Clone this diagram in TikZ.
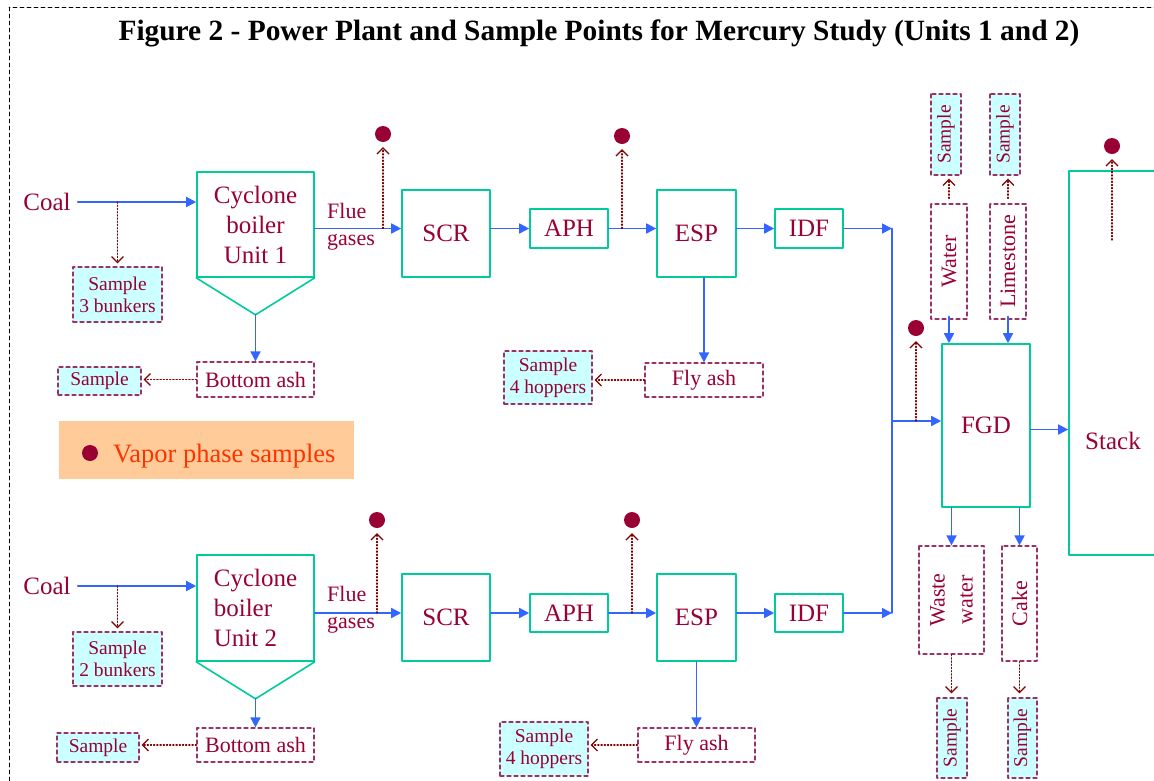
\documentclass[tikz,border=0pt]{standalone}
\usepackage{fontspec}
\setmainfont{Liberation Serif}
\usepackage{tikz}
\usepackage{xcolor}
\usetikzlibrary{arrows.meta,positioning}
\definecolor{plantred}{HTML}{990033}
\definecolor{plantgreen}{HTML}{00CC99}
\definecolor{plantblue}{HTML}{3366FF}
\definecolor{plantdash}{HTML}{993366}
\definecolor{planttap}{HTML}{800000}
\definecolor{plantcyan}{HTML}{CCFFFF}
\definecolor{plantorange}{HTML}{FFCC99}
\definecolor{plantvapor}{HTML}{FF3300}
\tikzset{
  every picture/.append style={line cap=round,line join=round},
  plant size/.style 2 args={minimum width=#1pt,minimum height=#2pt},
  plant unit/.style={draw=plantgreen,line width=1.6pt,text=plantred,inner sep=0pt,font=\fontsize{25}{30}\selectfont},
  plant hopper/.style={plantgreen,line width=1.6pt},
  plant flow/.style={plantblue,line width=1.7pt,-{Triangle[length=10pt,width=10pt]}},
  plant pipe/.style={plantblue,line width=1.7pt},
  plant tap/.style={planttap,line width=1.2pt,dotted,-{Straight Barb[length=6pt,width=12pt]}},
  plant stream/.style={draw=plantdash,line width=1.2pt,dash pattern=on 4pt off 3pt,text=plantred,inner sep=0pt,align=center,font=\fontsize{22}{28}\selectfont},
  plant sample/.style={plant stream,fill=plantcyan,font=\fontsize{19.5}{22}\selectfont},
  plant dot/.style={circle,fill=plantred,inner sep=0pt,minimum size=16pt},
  plant label/.style={text=plantred,inner sep=0pt,font=\fontsize{25}{30}\selectfont},
  plant note/.style={text=plantred,inner sep=0pt,align=left,font=\fontsize{22}{27}\selectfont}
}
\begin{document}
\begin{tikzpicture}[x=1pt,y=-1pt]
  \useasboundingbox (0,0) rectangle (1154,780);
  \draw[line width=0.8pt,dash pattern=on 4pt off 3pt] (9,7) rectangle (1180,800);
  \node[font=\bfseries\fontsize{29.4}{34}\selectfont] (title) at (599,33) {Figure 2 - Power Plant and Sample Points for Mercury Study (Units 1 and 2)};

  % unit 1
  \node[plant label] (coal1) at (47,202) {Coal};
  \node[plant unit,plant size={117}{105},align=center] (boil1) at (255.5,224.5) {Cyclone\\boiler\\Unit 1};
  \coordinate (apex1) at ([yshift=-37pt]boil1.south);
  \draw[plant hopper] (boil1.south west) -- (apex1) -- (boil1.south east);
  \node[plant sample,plant size={89}{55}] (sbunk1) at (117.5,294.5) {Sample\\3 bunkers};
  \node[plant stream,plant size={117}{35}] (bash1) at (255.5,379.5) {Bottom ash};
  \node[plant sample,plant size={83}{28}] (sash1) at (99.5,381) {Sample};
  \node[plant note] (flue1) at (351,227) {Flue\\gases};
  \node[plant unit,plant size={88}{87}] (scr1) at (446,233.5) {SCR};
  \node[plant unit,plant size={78}{39}] (aph1) at (569,228.5) {APH};
  \node[plant unit,plant size={79}{87}] (esp1) at (696.5,233.5) {ESP};
  \node[plant unit,plant size={68}{39}] (idf1) at (809,228.5) {IDF};
  \node[plant stream,plant size={118}{34}] (fly1) at (704,380) {Fly ash};
  \node[plant sample,plant size={88}{53}] (shop1) at (548,377.5) {Sample\\4 hoppers};
  \node[plant dot] (vap1) at (383,134) {};
  \node[plant dot] (vap2) at (622,136) {};

  \draw[plant flow,shorten <=7pt] (coal1.east) -- (coal1.east -| boil1.west);
  \draw[plant tap,shorten >=3pt] (sbunk1.north |- coal1) -- (sbunk1.north);
  \draw[plant flow] (apex1) -- (bash1.north);
  \draw[plant tap,shorten >=2pt] (bash1.west) -- (bash1.west -| sash1.east);
  \draw[plant flow] (boil1.east |- aph1) -- (scr1.west |- aph1);
  \draw[plant flow] (scr1.east |- aph1) -- (aph1.west);
  \draw[plant flow] (aph1.east) -- (esp1.west |- aph1);
  \draw[plant flow] (esp1.east |- idf1) -- (idf1.west);
  \draw[plant tap,shorten >=5pt] (vap1 |- aph1) -- (vap1.south);
  \draw[plant tap,shorten >=5pt] (vap2 |- aph1) -- (vap2.south);
  \draw[plant flow] (fly1.north |- esp1.south) -- (fly1.north);
  \draw[plant tap,shorten >=2pt] (fly1.west) -- (fly1.west -| shop1.east);

  % legend
  \node[fill=plantorange,plant size={295}{58}] (legend) at (206.5,450) {};
  \node[plant dot] (legdot) at (90,453) {};
  \node[anchor=west,text=plantvapor,inner sep=0pt,font=\fontsize{26.5}{30}\selectfont] (legtext) at (113,456) {Vapor phase samples};

  % unit 2
  \node[plant label] (coal2) at (47,586) {Coal};
  \node[plant unit,plant size={117}{106},align=left] (boil2) at (255.5,608) {Cyclone\\boiler\\Unit 2};
  \coordinate (apex2) at ([yshift=-37pt]boil2.south);
  \draw[plant hopper] (boil2.south west) -- (apex2) -- (boil2.south east);
  \node[plant sample,plant size={89}{54}] (sbunk2) at (117.5,659) {Sample\\2 bunkers};
  \node[plant stream,plant size={117}{34}] (bash2) at (255.5,745) {Bottom ash};
  \node[plant sample,plant size={82}{29}] (sash2) at (98,747.5) {Sample};
  \node[plant note] (flue2) at (351,610) {Flue\\gases};
  \node[plant unit,plant size={88}{87}] (scr2) at (446,617.5) {SCR};
  \node[plant unit,plant size={78}{38}] (aph2) at (569,613) {APH};
  \node[plant unit,plant size={79}{87}] (esp2) at (696.5,617.5) {ESP};
  \node[plant unit,plant size={68}{38}] (idf2) at (809,613) {IDF};
  \node[plant stream,plant size={117}{34}] (fly2) at (696.5,745) {Fly ash};
  \node[plant sample,plant size={88}{54}] (shop2) at (544,749) {Sample\\4 hoppers};
  \node[plant dot] (vap3) at (377,520) {};
  \node[plant dot] (vap4) at (632,520) {};

  \draw[plant flow,shorten <=7pt] (coal2.east) -- (coal2.east -| boil2.west);
  \draw[plant tap,shorten >=3pt] (sbunk2.north |- coal2) -- (sbunk2.north);
  \draw[plant flow] (apex2) -- (bash2.north);
  \draw[plant tap,shorten >=2pt] (bash2.west) -- (bash2.west -| sash2.east);
  \draw[plant flow] (boil2.east |- aph2) -- (scr2.west |- aph2);
  \draw[plant flow] (scr2.east |- aph2) -- (aph2.west);
  \draw[plant flow] (aph2.east) -- (esp2.west |- aph2);
  \draw[plant flow] (esp2.east |- idf2) -- (idf2.west);
  \draw[plant tap,shorten >=5pt] (vap3 |- aph2) -- (vap3.south);
  \draw[plant tap,shorten >=5pt] (vap4 |- aph2) -- (vap4.south);
  \draw[plant flow] (esp2.south -| fly2.north) -- (fly2.north);
  \draw[plant tap,shorten >=2pt] (fly2.west) -- (fly2.west -| shop2.east);

  % scrubber and stack
  \coordinate (bus1) at (892,228.5);
  \coordinate (bus2) at (892,613);
  \coordinate (busfgd) at (892,421);
  \node[plant unit,plant size={88}{163}] (fgd) at (986,425.5) {FGD};
  \node[plant unit,plant size={88}{384}] (stack) at (1113,363) {};
  \node[plant label] (stacklbl) at (1113,441) {Stack};
  \node[plant stream,rotate=90,plant size={115}{36}] (water) at (949,261.5) {Water};
  \node[plant stream,rotate=90,plant size={115}{36}] (lime) at (1008,261.5) {Limestone};
  \node[plant sample,rotate=90,plant size={81}{30}] (wsamp) at (946,134.5) {Sample};
  \node[plant sample,rotate=90,plant size={81}{30}] (lsamp) at (1005,134.5) {Sample};
  \node[plant stream,rotate=90,plant size={108}{65}] (waste) at (951.5,600) {Waste\\water};
  \node[plant stream,rotate=90,plant size={115}{35}] (cake) at (1019.5,603.5) {Cake};
  \node[plant sample,rotate=90,plant size={80}{30}] (wwsamp) at (952,738) {Sample};
  \node[plant sample,rotate=90,plant size={80}{29}] (cksamp) at (1022.5,738) {Sample};
  \node[plant dot] (vap5) at (916,328) {};
  \node[plant dot] (vap6) at (1112,146) {};
  \coordinate (stacktap) at (1112,240);

  \draw[plant flow] (idf1.east) -- (bus1);
  \draw[plant flow] (idf2.east) -- (bus2);
  \draw[plant pipe] (bus1) -- (bus2);
  \draw[plant flow] (busfgd) -- (busfgd -| fgd.west);
  \draw[plant tap,shorten >=5pt] (vap5 |- busfgd) -- (vap5.south);
  \draw[plant flow] ([yshift=-4pt]fgd.east) -- ([yshift=-4pt]fgd.east -| stack.west);
  \draw[plant tap,shorten >=5pt] (stacktap) -- (vap6.south);
  \draw[plant flow,shorten <=-3pt] (water.west) -- (water.west |- fgd.north);
  \draw[plant flow,shorten <=-3pt] (lime.west) -- (lime.west |- fgd.north);
  \draw[plant tap,shorten <=5pt,shorten >=3pt] (water.east) -- (water.east |- wsamp.west);
  \draw[plant tap,shorten <=5pt,shorten >=3pt] (lime.east) -- (lime.east |- lsamp.west);
  \draw[plant flow] (waste.east |- fgd.south) -- (waste.east);
  \draw[plant flow] (cake.east |- fgd.south) -- (cake.east);
  \draw[plant tap,shorten >=4pt] (waste.west) -- (waste.west |- wwsamp.east);
  \draw[plant tap,shorten >=4pt] (cake.west) -- (cake.west |- cksamp.east);
\end{tikzpicture}
\end{document}
